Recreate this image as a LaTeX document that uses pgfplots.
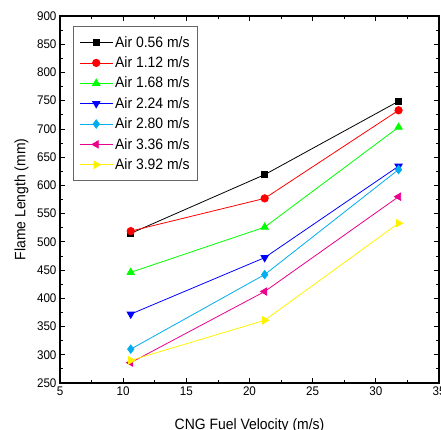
\documentclass[border=0pt]{standalone}
\usepackage{fontspec}
\setmainfont{Liberation Sans}[FakeStretch=0.93]
\usepackage{pgfplots}
\pgfplotsset{compat=1.18}
\begin{document}
\begin{tikzpicture}
\begin{axis}[
 at={(0,0)}, anchor=south west,
 scale only axis, width=379pt, height=367pt,
 xmin=5, xmax=35, ymin=250, ymax=900,
 xtick={5,10,...,35}, ytick={250,300,...,900},
 minor x tick num=1, minor y tick num=1,
 tick align=inside, major tick length=5pt, minor tick length=3pt,
 axis line style={line width=1.5pt},
 tick style={line width=0.8pt, black},
 /pgf/number format/assume math mode=true,
 ticklabel style={font=\fontsize{12.5}{14}\selectfont},
 xlabel={CNG Fuel Velocity (m/s)}, ylabel={Flame Length (mm)},
 label style={font=\fontsize{15}{18}\selectfont},
 xlabel style={at={(axis description cs:0.5,0)}, anchor=north, yshift=-32pt},
 ylabel style={at={(axis description cs:-0.074,0.5)}, anchor=south},
 legend style={at={(0.034,0.973)}, anchor=north west, draw=black!60, line width=0.9pt,
   font=\fontsize{15}{18}\selectfont, row sep=4pt, inner xsep=6pt, inner ysep=8pt},
 legend cell align=left,
 legend image code/.code={\draw[mark repeat=2,mark phase=2,#1] plot coordinates {(0pt,0pt) (16.5pt,0pt) (33pt,0pt)};},
 every axis plot/.append style={line width=0.8pt},
]
\addplot[black, mark=square*, mark size=3pt, mark options={solid,fill=black}] coordinates {(10.6,515)(21.2,619)(31.8,749)};
\addlegendentry{Air 0.56 m/s}
\addplot[red, mark=*, mark size=3.7pt, mark options={solid,fill=red}] coordinates {(10.6,519)(21.2,577)(31.8,733)};
\addlegendentry{Air 1.12 m/s}
\addplot[green, mark=triangle*, mark size=4.2pt, mark options={solid,fill=green}] coordinates {(10.6,446)(21.2,526)(31.8,703)};
\addlegendentry{Air 1.68 m/s}
\addplot[blue, mark=triangle*, mark size=4.2pt, mark options={solid,fill=blue,rotate=180}] coordinates {(10.6,372)(21.2,472)(31.8,634)};
\addlegendentry{Air 2.24 m/s}
\addplot[cyan, mark=diamond*, mark size=4.2pt, mark options={solid,fill=cyan}] coordinates {(10.6,310)(21.2,442)(31.8,628)};
\addlegendentry{Air 2.80 m/s}
\addplot[magenta, mark=triangle*, mark size=4.2pt, mark options={solid,fill=magenta,rotate=90}] coordinates {(10.6,286)(21.2,412)(31.8,580)};
\addlegendentry{Air 3.36 m/s}
\addplot[yellow, mark=triangle*, mark size=4.2pt, mark options={solid,fill=yellow,rotate=-90}] coordinates {(10.6,290)(21.2,361)(31.8,533)};
\addlegendentry{Air 3.92 m/s}
\end{axis}
\pgfresetboundingbox
\path (-60pt,-47pt) rectangle (381pt,383pt);
\end{tikzpicture}
\end{document}
